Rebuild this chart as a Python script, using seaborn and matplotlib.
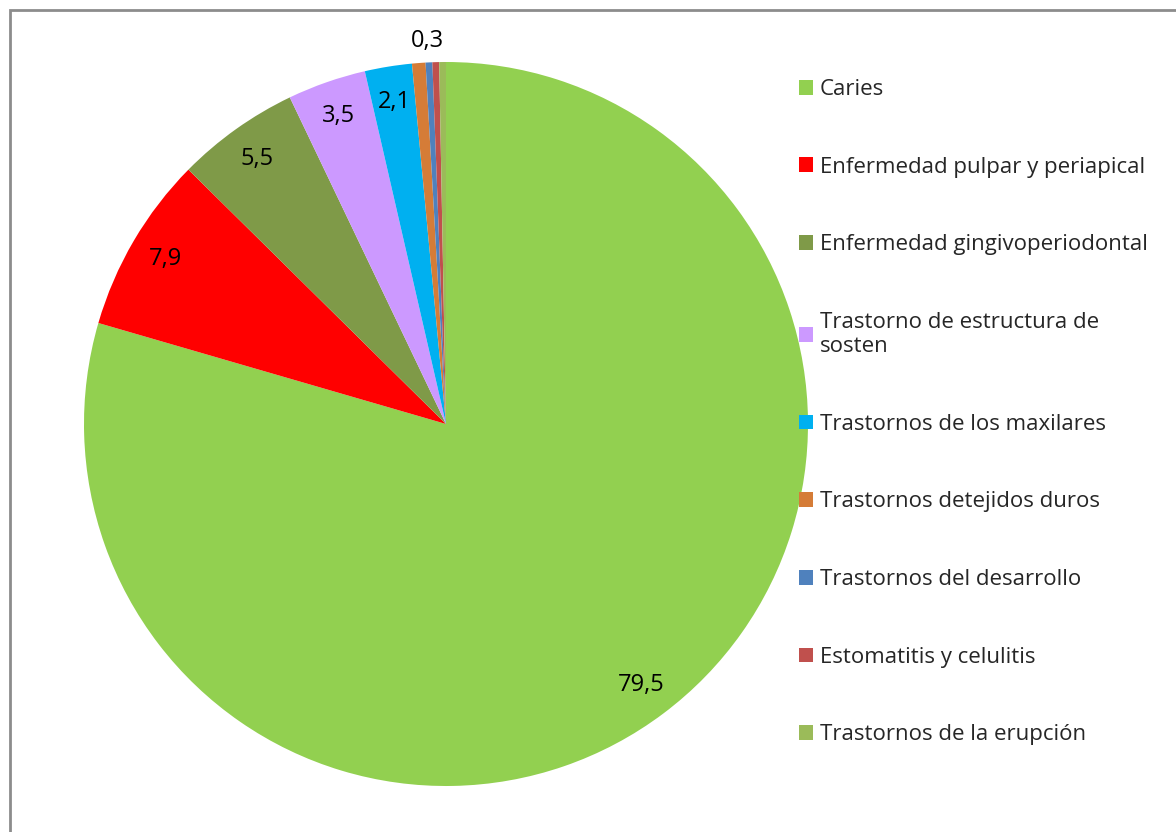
import matplotlib.pyplot as plt
import seaborn as sns
from matplotlib.patches import Rectangle
import numpy as np

categories = [
    "Caries",
    "Enfermedad pulpar y periapical",
    "Enfermedad gingivoperiodontal",
    "Trastorno de estructura de\nsosten",
    "Trastornos de los maxilares",
    "Trastornos detejidos duros",
    "Trastornos del desarrollo",
    "Estomatitis y celulitis",
    "Trastornos de la erupción",
]
values = [79.5, 7.9, 5.5, 3.5, 2.1, 0.6, 0.3, 0.3, 0.3]
colors = ["#92D050", "#FF0000", "#7F9A48", "#CC99FF", "#00B0F0",
          "#D57C37", "#4F81BD", "#C0504D", "#9BBB59"]
# which small slice gets its label printed outside
outside_label = 6

sns.set_theme(style="white")
plt.rcParams["font.family"] = ["Open Sans", "DejaVu Sans"]

fig = plt.figure(figsize=(11.76, 8.32), dpi=100)
W, H = 1176, 832
cx, cy, r = 446, 424, 362
ax = fig.add_axes([(cx - r) / W, 1 - (cy + r) / H, 2 * r / W, 2 * r / H])

def fmt(p):
    return f"{p:.1f}".replace(".", ",") if p >= 1 else ""

wedges, texts, autotexts = ax.pie(
    values, colors=colors, startangle=90, counterclock=False,
    autopct=fmt, pctdistance=0.9, radius=1,
    wedgeprops=dict(linewidth=0),
    textprops=dict(fontsize=17, color="black"),
)
ax.set_xlim(-1, 1)
ax.set_ylim(-1, 1)
ax.set_aspect("equal")

w = wedges[outside_label]
mid = np.deg2rad((w.theta1 + w.theta2) / 2)
ax.text(1.06 * np.cos(mid), 1.06 * np.sin(mid),
        f"{values[outside_label]:.1f}".replace(".", ","),
        ha="center", va="center", fontsize=17, color="black")

fig.legend(
    wedges, categories, loc="upper left",
    bbox_to_anchor=(790 / W, 1 - 70 / H),
    frameon=False, fontsize=16, handlelength=0.65, handleheight=0.65,
    handletextpad=0.3, labelspacing=2.55, borderaxespad=0,
)

fig.patches.append(Rectangle((10 / W, -0.1), 1.2, 1 - 10 / H + 0.1,
                             transform=fig.transFigure, fill=False,
                             edgecolor="#8C8C8C", linewidth=2))

fig.savefig("out.png", dpi=100, facecolor="white")
